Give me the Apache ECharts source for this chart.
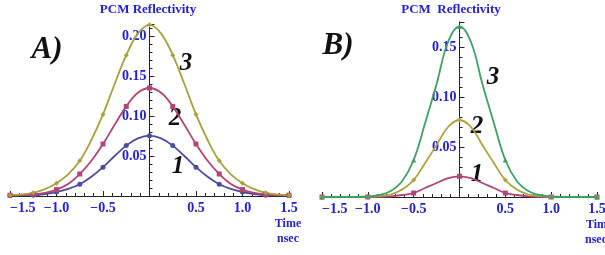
<!DOCTYPE html>
<html>
<head>
<meta charset="utf-8">
<script src="https://cdn.jsdelivr.net/npm/echarts@6/dist/echarts.min.js"></script>
<style>
  html, body { margin: 0; padding: 0; background: #fff; }
  #main { width: 605px; height: 255px; }
</style>
</head>
<body>
<div id="main"></div>
<script>
// time in nsec, step 0.125
const times = [-1.5, -1.375, -1.25, -1.125, -1.0, -0.875, -0.75, -0.625, -0.5, -0.375, -0.25, -0.125, 0,
               0.125, 0.25, 0.375, 0.5, 0.625, 0.75, 0.875, 1.0, 1.125, 1.25, 1.375, 1.5];

// panel A
const a1 = [0.0005, 0.0007, 0.001, 0.0025, 0.005, 0.0088, 0.0146, 0.024, 0.036, 0.050, 0.063, 0.072, 0.0754,
            0.072, 0.063, 0.050, 0.036, 0.024, 0.0146, 0.0088, 0.005, 0.0025, 0.001, 0.0007, 0.0005];
const a2 = [0.001, 0.001, 0.002, 0.004, 0.008, 0.015, 0.0275, 0.044, 0.065, 0.089, 0.112, 0.129, 0.135,
            0.129, 0.112, 0.089, 0.065, 0.044, 0.0275, 0.015, 0.008, 0.004, 0.002, 0.001, 0.001];
const a3 = [0.001, 0.002, 0.004, 0.0085, 0.016, 0.027, 0.044, 0.070, 0.102, 0.140, 0.176, 0.203, 0.214,
            0.203, 0.176, 0.140, 0.102, 0.070, 0.044, 0.027, 0.016, 0.0085, 0.004, 0.002, 0.001];

// panel B
const b1 = [0, 0, 0, 0, 0, 0.0002, 0.0007, 0.002, 0.004, 0.009, 0.014, 0.0188, 0.0207,
            0.0188, 0.014, 0.009, 0.004, 0.002, 0.0007, 0.0002, 0, 0, 0, 0, 0];
const b2 = [0, 0, 0, 0, 0.0002, 0.0008, 0.0025, 0.0074, 0.017, 0.034, 0.052, 0.070, 0.077,
            0.070, 0.052, 0.034, 0.017, 0.0074, 0.0025, 0.0008, 0.0002, 0, 0, 0, 0];
const b3 = [0, 0, 0, 0, 0.0005, 0.002, 0.006, 0.016, 0.037, 0.074, 0.113, 0.155, 0.1706,
            0.155, 0.113, 0.074, 0.037, 0.016, 0.006, 0.002, 0.0005, 0, 0, 0, 0];

const tickBlue = '#2222d4';
const serif = '"Liberation Serif", "DejaVu Serif", serif';

const minus = (v) => v < 0 ? '\u2212' + Math.abs(v).toFixed(1) : v.toFixed(1);

function xAxisCfg(idx) {
  return {
    type: 'value', gridIndex: idx, min: -1.5, max: 1.5, interval: 0.5,
    axisLine: { onZero: false, lineStyle: { color: '#222', width: 1 } },
    axisTick: { inside: true, length: 5, lineStyle: { color: '#222' } },
    minorTick: { show: true, splitNumber: 5, length: 3, lineStyle: { color: '#222' } },
    splitLine: { show: false },
    axisLabel: {
      color: tickBlue, fontFamily: serif, fontWeight: 'bold', fontSize: 14, margin: 5,
      alignMinLabel: 'left',
      formatter: (v) => v === 0 ? '' : minus(v)
    }
  };
}

function yAxisCfg(idx, max, off) {
  return {
    type: 'value', gridIndex: idx, min: 0, max: max, interval: 0.05,
    position: 'left', offset: off,
    axisLine: { onZero: false, lineStyle: { color: '#222', width: 1 } },
    axisTick: { inside: true, length: 5, lineStyle: { color: '#222' } },
    minorTick: { show: true, splitNumber: 5, length: 3, lineStyle: { color: '#222' } },
    splitLine: { show: false },
    axisLabel: {
      color: tickBlue, fontFamily: serif, fontWeight: 'bold', fontSize: 14, margin: 3,
      showMaxLabel: false,
      formatter: (v) => (v === 0 || Math.abs(v * 20 - Math.round(v * 20)) > 1e-6) ? '' : v.toFixed(2)
    }
  };
}

function curve(idx, ys, color, symbol, every) {
  return {
    type: 'line', xAxisIndex: idx, yAxisIndex: idx,
    smooth: 0.4, showAllSymbol: true, symbolSize: 5,
    lineStyle: { color: color, width: 1.8 },
    itemStyle: { color: color },
    data: ys.map((y, i) => ({
      value: [times[i], y],
      symbol: i % every === 0 ? symbol : 'none'
    })),
    z: 3
  };
}

function label(x, y, s, font, fill, align) {
  return { type: 'text', x: x, y: y, style: { text: s, font: font, fill: fill, align: align || 'center', verticalAlign: 'middle' } };
}

const chart = echarts.init(document.getElementById('main'));
chart.setOption({
  animation: false,
  grid: [
    { left: 10, top: 24, width: 279, height: 172, outerBoundsMode: 'none', containLabel: false },
    { left: 322, top: 22, width: 275, height: 175, outerBoundsMode: 'none', containLabel: false }
  ],
  xAxis: [xAxisCfg(0), xAxisCfg(1)],
  yAxis: [yAxisCfg(0, 0.215, -139.5), yAxisCfg(1, 0.175, -137.5)],
  series: [
    curve(0, a1, '#4b4ba2', 'circle', 2),
    curve(0, a2, '#b04576', 'rect', 2),
    curve(0, a3, '#aaa040', 'diamond', 2),
    curve(1, b1, '#ac4878', 'rect', 4),
    curve(1, b2, '#b0a040', 'diamond', 4),
    curve(1, b3, '#3fa066', 'triangle', 4)
  ],
  graphic: [
    label(148, 10, 'PCM Reflectivity', 'bold 13px ' + serif, tickBlue),
    label(451, 10, 'PCM  Reflectivity', 'bold 13px ' + serif, tickBlue),
    label(47, 50, 'A)', 'italic bold 31px ' + serif, '#111'),
    label(338, 46, 'B)', 'italic bold 31px ' + serif, '#111'),
    label(186, 64, '3', 'italic bold 25px ' + serif, '#111'),
    label(175, 119, '2', 'italic bold 25px ' + serif, '#111'),
    label(178, 167, '1', 'italic bold 25px ' + serif, '#111'),
    label(493, 78, '3', 'italic bold 25px ' + serif, '#111'),
    label(477, 127, '2', 'italic bold 25px ' + serif, '#111'),
    label(477, 175, '1', 'italic bold 25px ' + serif, '#111'),
    label(288, 224, 'Time', 'bold 12px ' + serif, tickBlue),
    label(288, 239, 'nsec', 'bold 12px ' + serif, tickBlue),
    label(586, 225, 'Time', 'bold 12px ' + serif, tickBlue, 'left'),
    label(585, 240, 'nsec', 'bold 12px ' + serif, tickBlue, 'left')
  ]
});
</script>
</body>
</html>
